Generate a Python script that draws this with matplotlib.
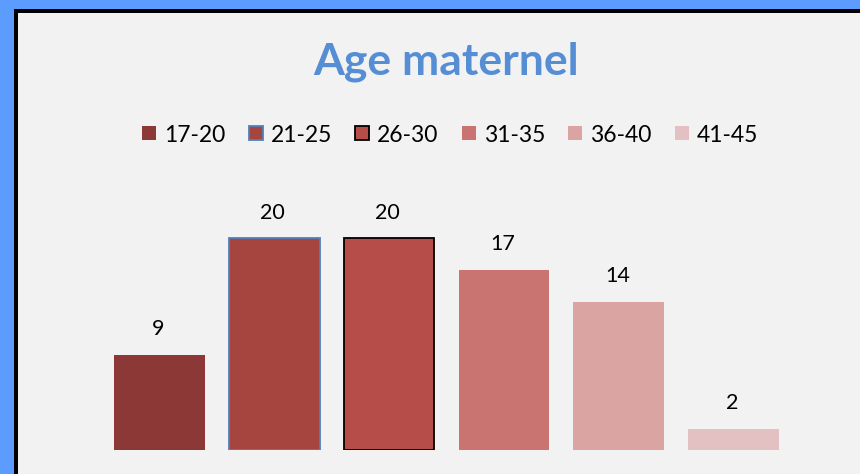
import matplotlib
matplotlib.use("Agg")
import matplotlib.pyplot as plt
from matplotlib.patches import Rectangle

categories = ["17-20", "21-25", "26-30", "31-35", "36-40", "41-45"]
values = [9, 20, 20, 17, 14, 2]
colors = ["#8c3836", "#a6443f", "#b64d49", "#c97470", "#daa4a3", "#e3c1c3"]
edgecolors = [None, "#4f81bd", "#000000", None, None, None]
title = "Age maternel"

W, H = 860, 474
fig = plt.figure(figsize=(W / 100, H / 100), dpi=100)
fig.patch.set_facecolor("#5c9cff")

def px(x, y, w, h):
    # pixel box (top-left origin) -> figure fraction box
    return (x / W, 1 - (y + h) / H, w / W, h / H)

bx, by, bw, bh = px(14, 9, W, H)
fig.patches.append(Rectangle((bx, by), bw, bh, transform=fig.transFigure,
                             facecolor="#000000", edgecolor="none", zorder=-2))
gx, gy, gw, gh = px(18, 13, W, H)
fig.patches.append(Rectangle((gx, gy), gw, gh, transform=fig.transFigure,
                             facecolor="#f2f2f2", edgecolor="none", zorder=-1))

font = "Lato"

# plot area
ax_left, ax_right = 102, 791
ax_bottom = 450
ymax = 22
ax_h = ymax * 10.6
ax = fig.add_axes(px(ax_left, ax_bottom - ax_h, ax_right - ax_left, ax_h))
ax.set_zorder(1)
ax.set_facecolor("none")
for i, (v, c, ec) in enumerate(zip(values, colors, edgecolors)):
    ax.bar(i, v, width=0.79, color=c,
           edgecolor=ec if ec else "none", linewidth=1.3 if ec else 0)
    ax.annotate(str(v), (i, v), xytext=(-1, 14), textcoords="offset points",
                ha="center", va="baseline", fontsize=15.5, family=font,
                color="#000000")
ax.set_xlim(-0.5, len(categories) - 0.5)
ax.set_ylim(0, ymax)
ax.axis("off")

# title
fig.text(446 / W, 1 - 62 / H, title, ha="center", va="center",
         fontsize=32, fontweight="bold", family=font, color="#558ed5", zorder=2)

# legend (manual)
sq = 14
leg_y = 133
for i, (cat, c, ec) in enumerate(zip(categories, colors, edgecolors)):
    x0 = 142 + i * 106.6
    rx, ry, rw, rh = px(x0, leg_y - sq / 2, sq, sq)
    fig.patches.append(Rectangle((rx, ry), rw, rh, transform=fig.transFigure,
                                 facecolor=c,
                                 edgecolor=ec if ec else "none",
                                 linewidth=1.3 if ec else 0, zorder=2))
    fig.text((x0 + sq + 8) / W, 1 - leg_y / H, cat, ha="left", va="center_baseline",
             fontsize=16.5, family=font, color="#000000", zorder=2)

fig.savefig("out.png", dpi=100, facecolor=fig.get_facecolor())
